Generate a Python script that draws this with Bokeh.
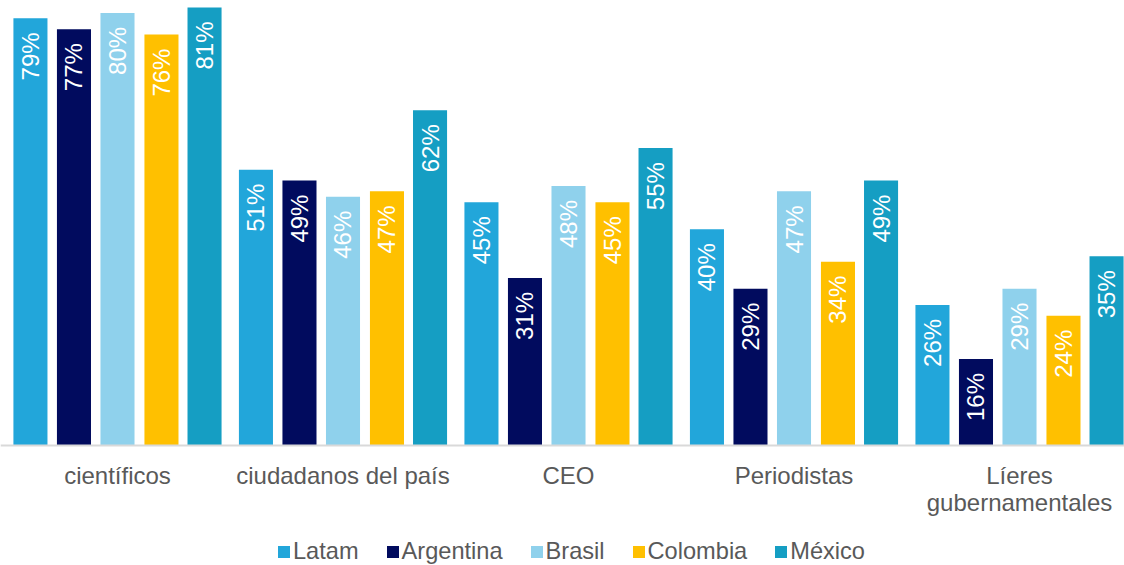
import math
from bokeh.plotting import figure
from bokeh.models import ColumnDataSource, Range1d, Legend, LegendItem, Span
from bokeh.core.properties import value
from bokeh.embed import file_html
from bokeh.resources import INLINE

categories = ["científicos", "ciudadanos del país", "CEO", "Periodistas", "Líeres\ngubernamentales"]
series_names = ["Latam", "Argentina", "Brasil", "Colombia", "México"]
latam = [79, 51, 45, 40, 26]
argentina = [77, 49, 31, 29, 16]
brasil = [80, 46, 48, 47, 29]
colombia = [76, 47, 45, 34, 24]
mexico = [81, 62, 55, 49, 35]
series_values = [latam, argentina, brasil, colombia, mexico]
colors = ["#22A6DA", "#010B5E", "#8FD1EC", "#FFC000", "#159EC3"]
offsets = [-0.386, -0.193, 0.0, 0.195, 0.386]

FONT = "Liberation Sans"

p = figure(frame_width=1124, frame_height=565,
           x_range=Range1d(-0.0188, 4.9656), y_range=Range1d(-22.19, 82.3),
           output_backend="svg", toolbar_location=None,
           x_axis_location=None, y_axis_location=None,
           min_border_left=0, min_border_right=0, min_border_top=0,
           min_border_bottom=0)
p.outline_line_color = None
p.xgrid.grid_line_color = None
p.ygrid.grid_line_color = None
p.background_fill_color = "white"
p.border_fill_color = "white"

centers = [i + 0.5 for i in range(len(categories))]

items = []
for name, vals, col, off in zip(series_names, series_values, colors, offsets):
    src = ColumnDataSource(dict(
        x=[c + off for c in centers],
        top=vals,
        label=[f"{v}%" for v in vals],
    ))
    r = p.vbar(x="x", top="top", bottom=0, width=0.151, source=src,
               fill_color=col, line_color=None)
    p.text(x="x", y="top", text="label", source=src, angle=math.pi / 2,
           text_align="right", text_baseline="middle", y_offset=14,
           text_color="white", text_font=value(FONT), text_font_size="24px")
    items.append(LegendItem(label=name, renderers=[r]))

# category axis: baseline and labels
p.add_layout(Span(location=0, dimension="width", line_color="#D9D9D9", line_width=2))
cat_src = ColumnDataSource(dict(x=centers, y=[0] * len(centers), label=categories))
p.text(x="x", y="y", text="label", source=cat_src, text_align="center",
       text_baseline="top", y_offset=16, text_line_height=1.0,
       text_color="#595959", text_font=value(FONT), text_font_size="24px")

legend = Legend(items=items, orientation="horizontal", location=(276, 0),
                label_text_font=FONT, label_text_font_size="23.6px",
                label_text_color="#595959",
                glyph_width=15, glyph_height=15, label_standoff=2,
                spacing=26, padding=0, margin=0, label_height=20,
                border_line_color=None, background_fill_alpha=0)
p.add_layout(legend, "center")

open("out.html", "w").write(file_html(p, INLINE))
